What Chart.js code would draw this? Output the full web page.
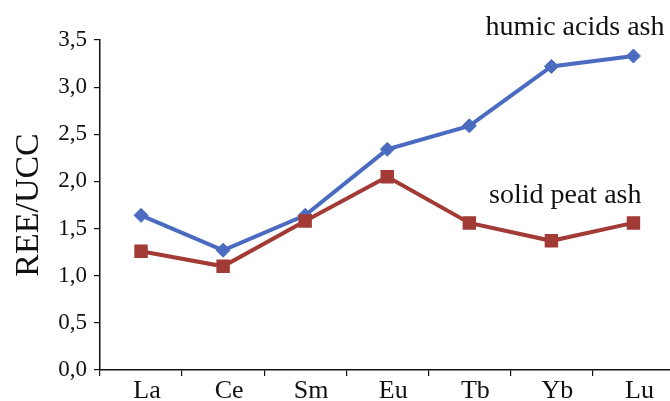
<!DOCTYPE html>
<html>
<head>
<meta charset="utf-8">
<script src="https://cdn.jsdelivr.net/npm/chart.js@4"></script>
<style>
  html, body { margin: 0; padding: 0; background: #fff; overflow: hidden; }
  #wrap { width: 684px; height: 401px; }
</style>
</head>
<body>
<div id="wrap"><canvas id="c" width="684" height="401"></canvas></div>
<script>
const categories = ['La', 'Ce', 'Sm', 'Eu', 'Tb', 'Yb', 'Lu'];
const humicAcidsAsh = [1.64, 1.27, 1.64, 2.34, 2.59, 3.22, 3.33];
const solidPeatAsh = [1.26, 1.10, 1.58, 2.05, 1.56, 1.37, 1.56];
const yTickLabels = ['0,0', '0,5', '1,0', '1,5', '2,0', '2,5', '3,0', '3,5'];
const seriesNames = ['humic acids ash', 'solid peat ash'];
const yTitle = 'REE/UCC';

const FONT = "'Liberation Serif', 'Times New Roman', serif";
const BLUE = '#4a6bbf';
const RED = '#a23a35';

const seriesLabels = {
  id: 'seriesLabels',
  afterDatasetsDraw(chart) {
    const ctx = chart.ctx;
    const xs = chart.scales.x;
    const xLast = xs.getPixelForValue(categories.length - 1);
    ctx.save();
    ctx.fillStyle = '#111';
    ctx.font = '28px ' + FONT;
    ctx.textAlign = 'right';
    ctx.textBaseline = 'alphabetic';
    ctx.fillText(seriesNames[0], xLast + 31, 35);
    ctx.fillText(seriesNames[1], xLast + 8, 203);
    ctx.restore();
  }
};

new Chart(document.getElementById('c'), {
  type: 'line',
  data: {
    labels: categories,
    datasets: [
      {
        label: seriesNames[1],
        data: solidPeatAsh,
        borderColor: RED,
        backgroundColor: RED,
        borderWidth: 4,
        pointStyle: 'rect',
        pointRadius: 9.5,
        pointBorderWidth: 0,
        pointBackgroundColor: RED,
        tension: 0,
        fill: false
      },
      {
        label: seriesNames[0],
        data: humicAcidsAsh,
        borderColor: BLUE,
        backgroundColor: BLUE,
        borderWidth: 4,
        pointStyle: 'rectRot',
        pointRadius: 7,
        pointBorderWidth: 1,
        pointBorderColor: BLUE,
        pointBackgroundColor: BLUE,
        tension: 0,
        fill: false
      }
    ]
  },
  options: {
    responsive: false,
    animation: false,
    layout: { padding: { top: 40, right: 0, bottom: 0, left: 0 } },
    plugins: {
      legend: { display: false },
      tooltip: { enabled: false },
      title: { display: false }
    },
    scales: {
      x: {
        type: 'category',
        offset: true,
        grid: {
          display: true,
          offset: true,
          drawOnChartArea: false,
          drawTicks: true,
          tickLength: 6,
          color: '#111',
          lineWidth: 1.2
        },
        border: { display: true, color: '#111', width: 1.5 },
        ticks: {
          color: '#111',
          font: { family: FONT, size: 26 },
          padding: 0,
          labelOffset: 6,
          maxRotation: 0,
          autoSkip: false
        },
        afterFit(scale) { scale.height = 31; }
      },
      y: {
        type: 'linear',
        min: 0,
        max: 3.5,
        grid: {
          display: true,
          drawOnChartArea: false,
          drawTicks: true,
          tickLength: 6,
          color: '#111',
          lineWidth: 1.2
        },
        border: { display: true, color: '#111', width: 1.5 },
        ticks: {
          stepSize: 0.5,
          color: '#111',
          font: { family: FONT, size: 23 },
          padding: 7,
          callback: (v, i) => yTickLabels[i]
        },
        title: {
          display: true,
          text: yTitle,
          color: '#111',
          font: { family: FONT, size: 34 },
          padding: { top: 9, bottom: 0 }
        },
        afterFit(scale) { scale.width = 100; }
      }
    }
  },
  plugins: [seriesLabels]
});
</script>
</body>
</html>
